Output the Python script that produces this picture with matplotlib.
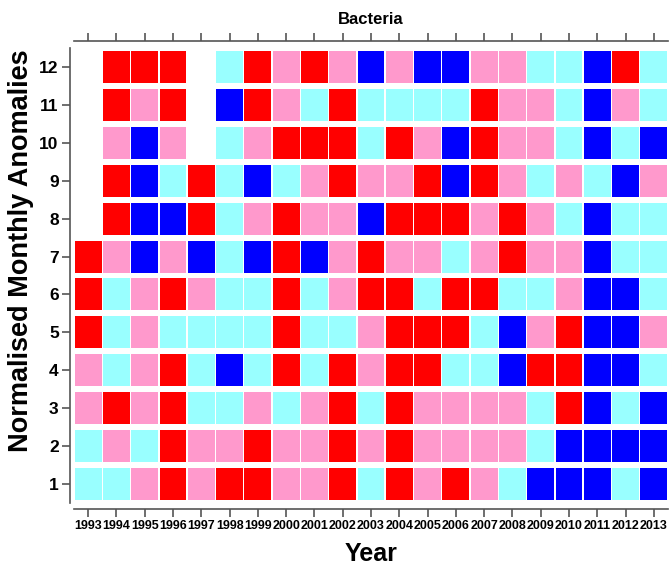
import matplotlib.pyplot as plt
import numpy as np

plt.rcParams['font.family'] = ['Liberation Sans', 'DejaVu Sans']

years = list(range(1993, 2014))
months = list(range(1, 13))

# anomaly class per year (1993..2013): R=high, P=moderate high, C=moderate low, B=low, N=missing
m01 = "CCPRPRRPPRCRPRPCBBBCB"
m02 = "CPCRPPRPPRPRPPPPCBBBB"
m03 = "PRPRCCPCPRCRPPPPCRBCB"
m04 = "PCPRCBCRCRPRRCCBRRBBC"
m05 = "RCPCCCCRCCPRRRCBPRBBP"
m06 = "RCPRPCCRCPRRCRRCCPBBC"
m07 = "RPBPBCBRBPRPPCPRPPBCC"
m08 = "NRBBRCPRPPBRRRPRPCBCC"
m09 = "NRBCRCBCPRPPRBRPCPCBP"
m10 = "NPBPNCPRRRCRPBRPPCBCB"
m11 = "NRPRNBRPCRCCCCRPPCBPC"
m12 = "NRRRNCRPRPBPBBPPCCBRC"
grid = [m01, m02, m03, m04, m05, m06, m07, m08, m09, m10, m11, m12]

class_colors = {"R": "#ff0000", "P": "#ff99cc", "C": "#99ffff", "B": "#0000ff"}


def generate_plot():
    fig = plt.figure(figsize=(6.71, 5.66), dpi=100)
    ax = fig.add_axes([0.1103, 0.1113, 0.8852, 0.8039])

    for key, col in class_colors.items():
        xs, ys = [], []
        for m, row in zip(months, grid):
            for y, c in zip(years, row):
                if c == key:
                    xs.append(y)
                    ys.append(m)
        ys = np.array(ys, dtype=float)
        ax.bar(xs, 0.845, bottom=ys - 0.4225, width=0.95, color=col, linewidth=0)

    # spines first: moving a spine resets the tick objects
    for s in ['left', 'top', 'bottom']:
        ax.spines[s].set_color('#555555')
        ax.spines[s].set_linewidth(1.2)
    ax.spines['right'].set_visible(False)
    ax.spines['left'].set_position(('outward', 3))
    ax.spines['top'].set_position(('outward', 5))
    ax.spines['bottom'].set_position(('outward', 4))

    ax.set_xlim(1992.5, 2013.5)
    ax.set_ylim(0.5, 12.5)
    ax.set_xticks(years)
    ax.set_yticks(months)
    ax.tick_params(axis='x', top=True, direction='out', length=6, width=1.2,
                   color='#555555', pad=2, labelsize=9)
    ax.tick_params(axis='y', direction='out', length=6, width=1.2,
                   color='#555555', pad=2, labelsize=12.5)
    for lab in ax.get_xticklabels() + ax.get_yticklabels():
        lab.set_fontweight('bold')

    ax.set_title("Bacteria", fontsize=12, fontweight='bold', pad=17)
    ax.set_xlabel("Year", fontsize=18, fontweight='bold')
    ax.xaxis.set_label_coords(0.5, -0.085)
    ax.set_ylabel("Normalised Monthly Anomalies", fontsize=19.5, fontweight='bold')
    ax.yaxis.set_label_coords(-0.068, 0.555)

    fig.savefig("out.png", dpi=100)


generate_plot()
